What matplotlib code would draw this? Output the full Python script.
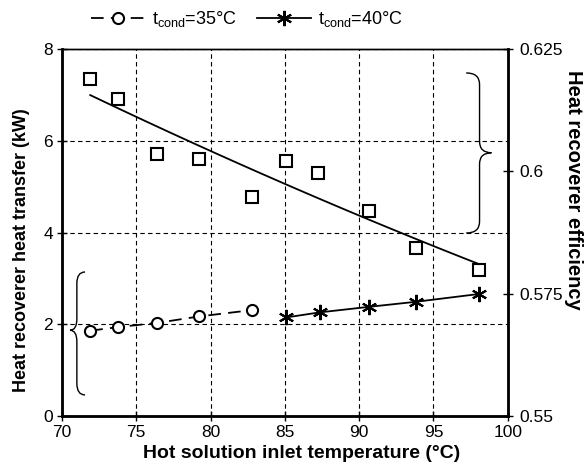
import numpy as np
import matplotlib
matplotlib.use("Agg")
from matplotlib import pyplot as plt
from matplotlib.path import Path
from matplotlib.patches import PathPatch
from matplotlib.lines import Line2D

plt.rcParams['font.family'] = ['Liberation Sans', 'DejaVu Sans']
plt.rcParams['font.size'] = 12

# dati: temperatura ingresso soluzione calda (°C)
T_35 = [71.9, 73.8, 76.4, 79.2, 82.8]
Q_35 = [1.86, 1.94, 2.03, 2.17, 2.31]          # kW
T_40 = [85.1, 87.35, 90.65, 93.8, 98.05]
Q_40 = [2.15, 2.26, 2.38, 2.49, 2.66]          # kW

# efficienza recuperatore (asse destro)
T_eff = [71.9, 73.8, 76.4, 79.2, 82.8, 85.1, 87.2, 90.65, 93.8, 98.05]
eff = [0.6188, 0.6149, 0.6036, 0.6026, 0.5948, 0.6021, 0.5997, 0.5919, 0.5844, 0.5798]

TCK = 12.5 # dimensione numeri sugli assi


def graffa(ax, x_end, x_body, x_tip, y_bot, y_tip, y_top, r):
    # parentesi graffa verticale disegnata con curve di bezier
    verts = [(x_end, y_top), (x_body, y_top), (x_body, y_top - r),
             (x_body, y_tip + r), (x_body, y_tip), (x_tip, y_tip),
             (x_body, y_tip), (x_body, y_tip - r),
             (x_body, y_bot + r), (x_body, y_bot), (x_end, y_bot)]
    codes = [Path.MOVETO, Path.CURVE3, Path.CURVE3,
             Path.LINETO, Path.CURVE3, Path.CURVE3,
             Path.CURVE3, Path.CURVE3,
             Path.LINETO, Path.CURVE3, Path.CURVE3]
    ax.add_patch(PathPatch(Path(verts, codes), fc='none', ec='black', lw=1.0,
                           clip_on=False))


fig = plt.figure(figsize=(5.85, 4.72), dpi=100)
ax = fig.add_axes([0.106, 0.1186, 0.762, 0.7774])
ax2 = ax.twinx()

ax.set_xlim(70, 100)
ax.set_ylim(0, 8)
ax2.set_ylim(0.55, 0.625)
ax.set_xticks(np.arange(70, 101, 5))
ax.set_yticks([0, 2, 4, 6, 8])
ax2.set_yticks([0.55, 0.575, 0.6, 0.625])
ax2.set_yticklabels(['0.55', '0.575', '0.6', '0.625'])

ax.grid(color='black', ls=(0, (4, 3)), lw=0.8)
ax.set_axisbelow(True)

for a in (ax, ax2):
    a.tick_params(direction='inout', length=7, width=1.0, labelsize=TCK, pad=3)
    for s in a.spines.values():
        s.set_linewidth(1.0)
ax2.tick_params(pad=5)
ax.spines['left'].set_linewidth(2.0)
ax.spines['bottom'].set_linewidth(2.0)
ax2.spines['right'].set_linewidth(2.0)

# curve di potenza termica
ax.plot(T_35, Q_35, color='black', lw=1.3, dashes=(7, 4), marker='o', ms=8,
        mfc='white', mec='black', mew=1.5, zorder=3)
ax.plot(T_40, Q_40, color='black', lw=1.3, marker=(6, 2, 0), ms=11,
        mec='black', mew=1.5, zorder=3)

# efficienza con linea di tendenza (fit quadratico)
ax2.plot(T_eff, eff, ls='', marker='s', ms=9, mfc='white', mec='black', mew=1.5)
p = np.polyfit(T_eff, eff, 2)
tt = np.linspace(T_eff[0], T_eff[-1], 100)
ax2.plot(tt, np.polyval(p, tt), color='black', lw=1.3)

# graffe che indicano l'asse di riferimento
graffa(ax, 97.2, 98.1, 98.9, 3.99, 5.74, 7.48, 0.25)
graffa(ax, 71.55, 71.0, 70.54, 0.46, 1.87, 3.14, 0.25)

ax.set_xlabel('Hot solution inlet temperature (°C)', fontweight='bold', fontsize=14)
ax.set_ylabel('Heat recoverer heat transfer (kW)', fontweight='bold', fontsize=13)
ax2.set_ylabel('Heat recoverer efficiency', fontweight='bold', rotation=-90,
               fontsize=14.5)
ax.xaxis.set_label_coords(0.537, -0.101)
ax.yaxis.set_label_coords(-0.09, 0.452)
ax2.yaxis.set_label_coords(1.147, 0.616)
ax.xaxis.label.set_va('center')
ax.yaxis.label.set_va('center')
ax2.yaxis.label.set_va('center')

h1 = Line2D([], [], color='black', lw=1.3, dashes=(7, 4), marker='o', ms=8,
            mfc='white', mec='black', mew=1.5)
h2 = Line2D([], [], color='black', lw=1.3, marker=(6, 2, 0), ms=11, mew=1.5)
fig.legend([h1, h2], [r't$_\mathregular{cond}$=35°C', r't$_\mathregular{cond}$=40°C'],
           loc='center', bbox_to_anchor=(247 / 585, 1 - 19 / 472), ncol=2,
           frameon=False, handlelength=3.0, handletextpad=0.4, columnspacing=1.1,
           fontsize=13)

fig.savefig('out.png', dpi=100)
